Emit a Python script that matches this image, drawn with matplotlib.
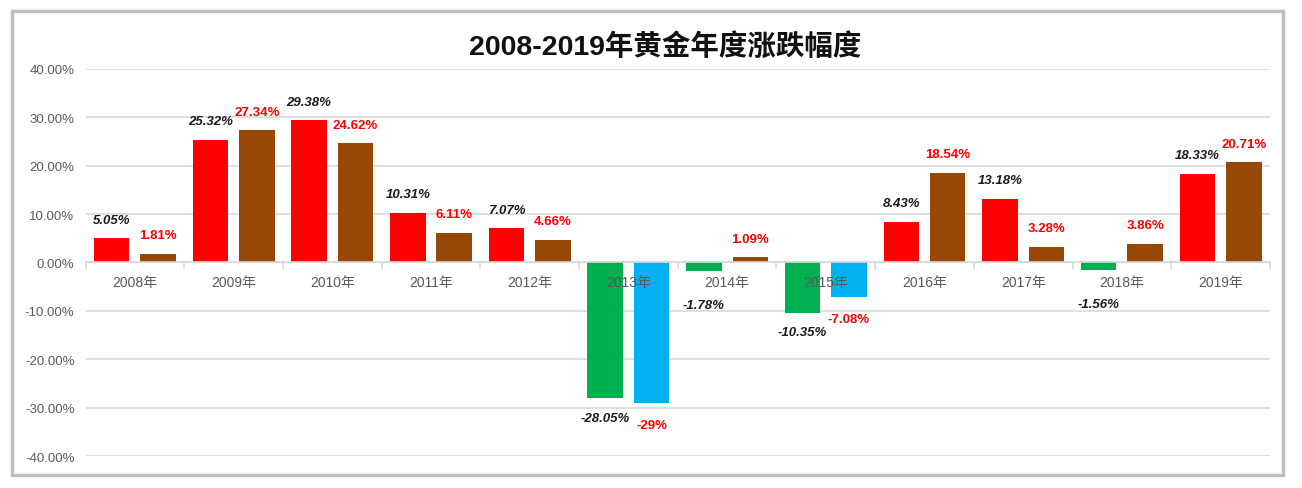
import numpy as np
import matplotlib
matplotlib.use("Agg")
import matplotlib.pyplot as plt
from matplotlib.patches import Rectangle
from matplotlib.ticker import FuncFormatter

plt.rcParams['font.family'] = ['Liberation Sans', 'Noto Sans CJK SC', 'DejaVu Sans']

# 数据
years = ['2008年', '2009年', '2010年', '2011年', '2012年', '2013年',
         '2014年', '2015年', '2016年', '2017年', '2018年', '2019年']
series1 = [5.05, 25.32, 29.38, 10.31, 7.07, -28.05, -1.78, -10.35, 8.43, 13.18, -1.56, 18.33]
series2 = [1.81, 27.34, 24.62, 6.11, 4.66, -29, 1.09, -7.08, 18.54, 3.28, 3.86, 20.71]
title = '2008-2019年黄金年度涨跌幅度'

# 颜色
red, brown = '#ff0000', '#974806'
green, blue = '#00b050', '#00b0f0'
grid_col = '#d9d9d9'
tick_col = '#595959'

fig = plt.figure(figsize=(13.02, 4.89), dpi=100)
ax = fig.add_axes([0.0657, 0.0654, 0.9097, 0.7915])

x = np.arange(len(years))
w = 0.36
off = 0.235
c1 = [red if v >= 0 else green for v in series1]
c2 = [brown if v >= 0 else blue for v in series2]
ax.bar(x - off, series1, w, color=c1, zorder=2)
ax.bar(x + off, series2, w, color=c2, zorder=2)

# 数据标签
def add_labels(xs, vals, extra=0, **kw):
    for xi, v in zip(xs, vals):
        if v >= 0:
            dy, va = 9, 'bottom'
        else:
            dy, va = (-20 if v > -5 else -10 - extra), 'top'
        ax.annotate(f'{v:g}%', (xi, v), xytext=(0, dy), textcoords='offset points',
                    ha='center', va=va, fontsize=9.5, fontweight='bold', zorder=5, **kw)

add_labels(x - off, series1, color='#1a1a1a', fontstyle='italic')
add_labels(x + off, series2, extra=2, color=red)

# 坐标轴
ax.set_xlim(-0.5, len(years) - 0.5)
ax.set_ylim(-40, 40)
ax.set_yticks(np.arange(-40, 41, 10))
ax.yaxis.set_major_formatter(FuncFormatter(lambda v, p: f'{v:.2f}%'))
ax.grid(axis='y', color=grid_col, linewidth=1.2)
ax.set_axisbelow(True)
ax.xaxis.set_zorder(3)  # 年份标签压在柱子上面
for s in ['top', 'left', 'right']:
    ax.spines[s].set_visible(False)
ax.spines['bottom'].set_position(('data', 0))
ax.spines['bottom'].set_color(grid_col)
ax.spines['bottom'].set_linewidth(1.2)

ax.set_xticks(x)
ax.set_xticklabels(years)
ax.set_xticks(np.arange(-0.5, len(years), 1), minor=True)
ax.tick_params(axis='x', which='major', length=0, pad=9, labelsize=10, labelcolor=tick_col)
ax.tick_params(axis='x', which='minor', length=5, width=1.2, color=grid_col)
ax.tick_params(axis='y', length=0, pad=8, labelsize=9.5, labelcolor=tick_col)

fig.text(0.511, 0.905, title, ha='center', va='center', fontsize=20.5, fontweight='bold',
         color='#111111')

# 外框
fig.patches.append(Rectangle((12 / 1302, 13 / 489), 1271 / 1302, 464 / 489,
                             transform=fig.transFigure, fill=False,
                             edgecolor='#bfbfbf', linewidth=2.5))

fig.savefig('out.png', dpi=100, facecolor='white')
